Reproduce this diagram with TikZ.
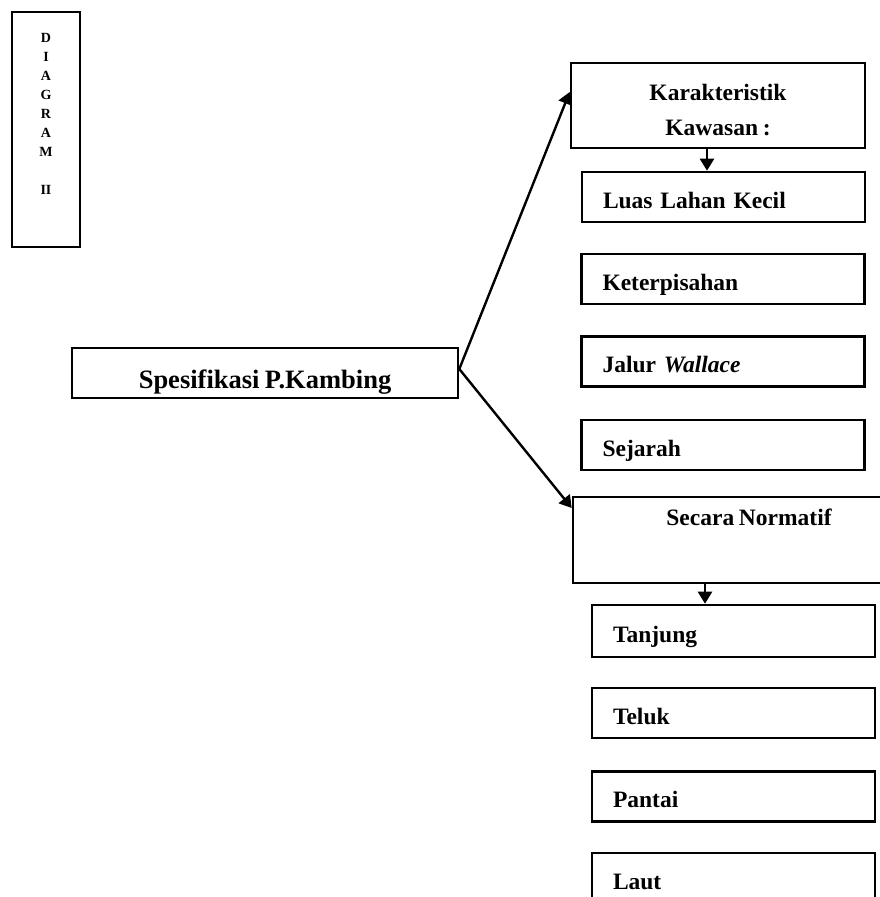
\documentclass[tikz,border=0pt]{standalone}
\usepackage{fontspec}
\setmainfont{Liberation Serif}[WordSpace=0.8]
\usetikzlibrary{arrows.meta}
\begin{document}
\begin{tikzpicture}[x=1pt,y=-1pt,
  box/.style={draw, line width=2.6pt, inner ysep=0pt,
    font=\bfseries\fontsize{23.5}{35}\selectfont},
  itembox/.style={box, inner xsep=21pt, text width=241pt, align=left,
    minimum height=50pt, text height=22pt, text depth=0pt},
  conn/.style={line width=2.4pt, -{Triangle[width=14pt,length=12pt]}}
]
\useasboundingbox (0,0) rectangle (879,897);

% title strip
\node[draw, line width=2.6pt, inner sep=0pt,
  font=\bfseries\fontsize{14}{19}\selectfont] (title) at (46,129.5)
  {\parbox[c][235pt][t]{68pt}{\centering\vspace*{21pt}%
   D\\I\\A\\G\\R\\A\\M\\[19pt]II}};

% root
\node[box, minimum width=386pt, minimum height=50pt, text height=30pt, text depth=0pt,
  font=\bfseries\fontsize{26.5}{30}\selectfont] (spes) at (265,373) {Spesifikasi P.Kambing};

% upper group
\node[box, inner sep=0pt] (karak) at (718,105.5)
  {\parbox[c][85pt][t]{294pt}{\centering\vspace*{21pt}Karakteristik\\Kawasan :}};
\node[itembox] (luas) at (723.5,197) {Luas Lahan Kecil};
\node[itembox] (keter) at (723,279) {Keterpisahan};
\node[itembox] (jalur) at (723,361.5) {Jalur \textit{Wallace}};
\node[itembox] (sejarah) at (723,445) {Sejarah};

% lower group
\node[box, minimum width=352pt, minimum height=86pt, text height=16pt, text depth=46pt]
  (norm) at (749,540) {Secara Normatif};
\node[itembox, minimum height=52pt] (tanjung) at (733.5,631) {Tanjung};
\node[itembox] (teluk) at (733.5,713) {Teluk};
\node[itembox] (pantai) at (733.5,796.5) {Pantai};
\node[itembox] (laut) at (733.5,878) {Laut};

% connectors
\draw[conn] ([yshift=4pt]spes.east) -- ([yshift=13.5pt]karak.west);
\draw[conn] ([yshift=4pt]spes.east) -- ([yshift=32pt]norm.west);
\draw[conn] ([xshift=-11pt]karak.south) -- ([xshift=-11pt]karak.south |- luas.north);
\draw[conn] ([xshift=-44pt]norm.south) -- ([xshift=-44pt]norm.south |- tanjung.north);
\end{tikzpicture}
\end{document}
